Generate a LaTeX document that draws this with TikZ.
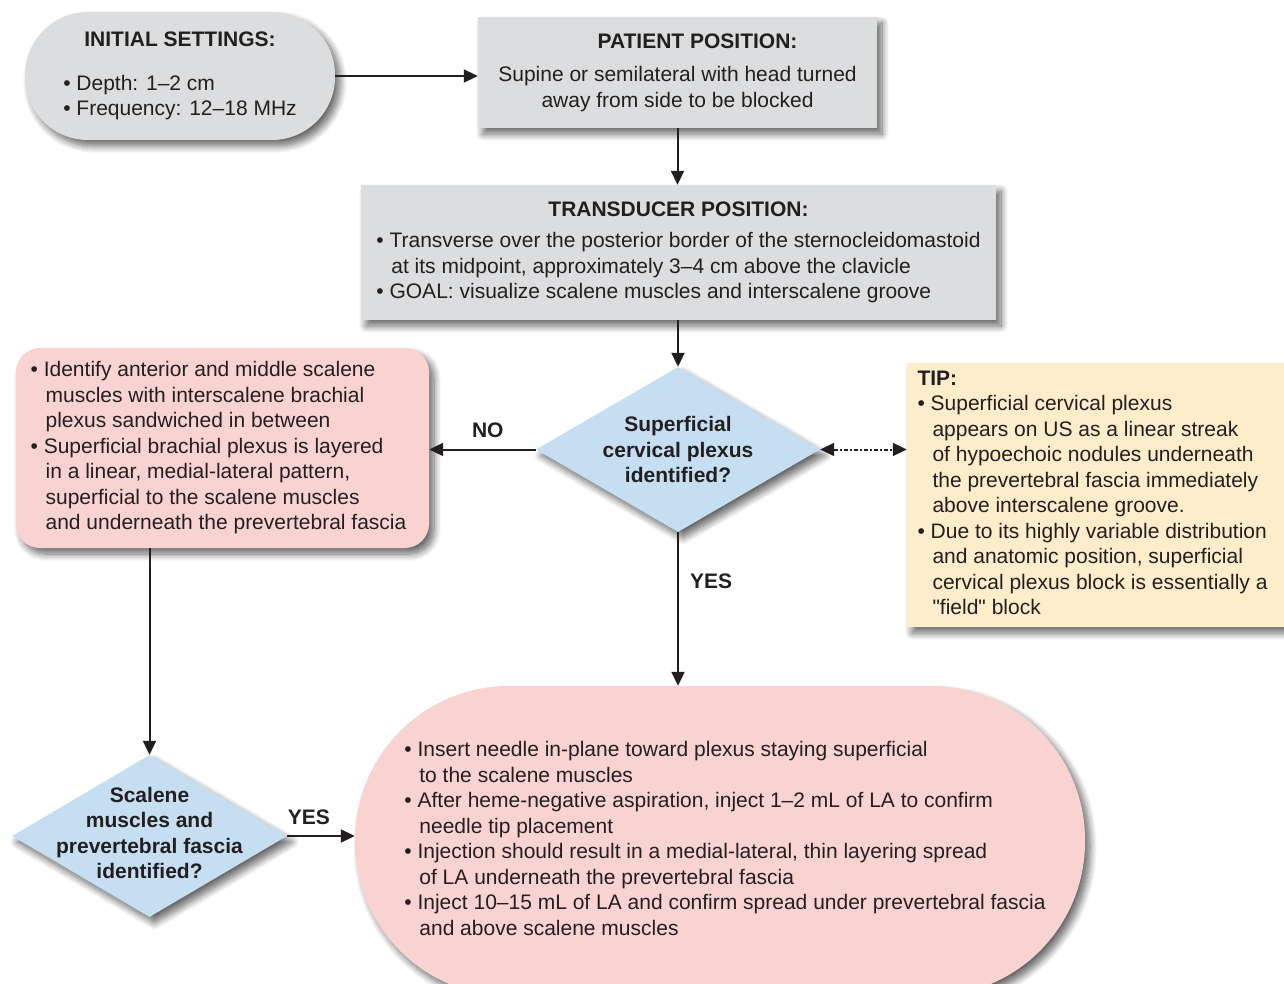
\documentclass[tikz,border=0pt]{standalone}
\usepackage{fontspec}
\setmainfont{Liberation Sans}
\usetikzlibrary{shapes.geometric,arrows.meta,shadows.blur,calc}
\definecolor{txt}{HTML}{231F20}
\definecolor{grayc}{HTML}{DCDDDE}
\definecolor{bluec}{HTML}{C5DEF1}
\definecolor{pinkc}{HTML}{F9D3D2}
\definecolor{tipc}{HTML}{FEEDCB}
\newcommand\myb{\textbullet\ }
\newcommand\myi{\hspace*{15pt}}
\begin{document}
\begin{tikzpicture}[x=1pt,y=-1pt,
  every node/.style={font=\fontsize{21}{25.5}\selectfont, text=txt},
  shad/.style={blur shadow={shadow xshift=5pt, shadow yshift=-6pt, shadow blur radius=7pt, shadow blur steps=10, shadow opacity=60}},
  graybox/.style={rectangle, fill=grayc, shad, inner sep=0pt},
  pinkbox/.style={rectangle, fill=pinkc, shad, inner sep=0pt},
  tipbox/.style={rectangle, fill=tipc, shad, inner sep=0pt},
  decision/.style={diamond, fill=bluec, shad, inner sep=0pt, aspect=1.72},
  qtext/.style={align=center, font=\fontsize{21}{25.5}\selectfont\bfseries},
  lbl/.style={font=\fontsize{21}{25.5}\selectfont\bfseries},
  flow/.style={draw=txt, line width=2pt, -{Triangle[length=14pt,width=13pt]}},
  dotflow/.style={draw=txt, line width=2pt, dash pattern=on 4.5pt off 2pt on 1.5pt off 2pt,
     {Triangle[length=14pt,width=13pt]}-{Triangle[length=14pt,width=13pt]}}
]
\useasboundingbox (0,0) rectangle (1284,984);
\clip (0,0) rectangle (1284,984);

\node[graybox, rounded corners=63pt, minimum width=310pt, minimum height=128pt] (init) at (180,76)
 {\begin{tabular}{@{}l@{}}\multicolumn{1}{@{}c@{}}{\bfseries INITIAL SETTINGS:}\\[18pt]
 \myb Depth: 1–2 cm\\ \myb Frequency: 12–18 MHz\end{tabular}};

\node[graybox, minimum width=399pt, minimum height=111pt] (patient) at (677.5,72.5)
 {\begin{tabular}{@{}c@{}}\hspace*{40pt}\bfseries PATIENT POSITION:\\[8pt]
 Supine or semilateral with head turned\\ away from side to be blocked\end{tabular}};

\node[graybox, minimum width=635pt, minimum height=135pt] (trans) at (678.5,252.5)
 {\begin{tabular}{@{}l@{}}\multicolumn{1}{@{}c@{}}{\bfseries TRANSDUCER POSITION:}\\[6pt]
 \myb Transverse over the posterior border of the sternocleidomastoid\\
 \myi at its midpoint, approximately 3–4 cm above the clavicle\\
 \myb GOAL: visualize scalene muscles and interscalene groove\end{tabular}};

\node[decision, minimum width=284pt, minimum height=165pt] (d1) at (678,449.5) {};
\node[qtext] (d1t) at (678,449.5) {Superficial\\ cervical plexus\\ identified?};

\node[pinkbox, rounded corners=24pt, minimum width=413pt, minimum height=200pt] (lp) at (222.5,448)
 {\begin{tabular}{@{}l@{\hspace{8pt}}}
 \myb Identify anterior and middle scalene\\
 \myi muscles with interscalene brachial\\
 \myi plexus sandwiched in between\\
 \myb Superficial brachial plexus is layered\\
 \myi in a linear, medial-lateral pattern,\\
 \myi superficial to the scalene muscles\\
 \myi and underneath the prevertebral fascia\end{tabular}};

\node[tipbox, minimum width=377pt, minimum height=264pt] (tip) at (1095.5,495)
 {\begin{tabular}{@{}l@{\hspace{6pt}}}
 \textbf{TIP:}\\
 \myb Superficial cervical plexus\\
 \myi appears on US as a linear streak\\
 \myi of hypoechoic nodules underneath\\
 \myi the prevertebral fascia immediately\\
 \myi above interscalene groove.\\
 \myb Due to its highly variable distribution\\
 \myi and anatomic position, superficial\\
 \myi cervical plexus block is essentially a\\
 \myi \textquotedbl field\textquotedbl{} block\end{tabular}};

\node[decision, minimum width=275pt, minimum height=162pt] (d2) at (149.5,836) {};
\node[qtext] (d2t) at (149.5,833) {Scalene\\ muscles and\\ prevertebral fascia\\ identified?};

\node[pinkbox, rounded corners=154pt, minimum width=730pt, minimum height=310pt] (inj) at (720,841)
 {\begin{tabular}{@{\hspace{10pt}}l@{}}
 \myb Insert needle in-plane toward plexus staying superficial\\
 \myi to the scalene muscles\\
 \myb After heme-negative aspiration, inject 1–2 mL of LA to confirm\\
 \myi needle tip placement\\
 \myb Injection should result in a medial-lateral, thin layering spread\\
 \myi of LA underneath the prevertebral fascia\\
 \myb Inject 10–15 mL of LA and confirm spread under prevertebral fascia\\
 \myi and above scalene muscles\end{tabular}};

\draw[flow] (init.east) -- (init.east -| patient.west);
\draw[flow] (patient.south) -- (patient.south |- trans.north);
\draw[flow] (trans.south -| d1.north) -- (d1.north);
\draw[flow] (d1.west) -- node[lbl, pos=0.45, yshift=19pt] {NO} (d1.west -| lp.east);
\draw[dotflow] (d1.east) -- (d1.east -| tip.west);
\draw[flow] (d1.south) -- node[lbl, pos=0.32, xshift=33pt] {YES} (d1.south |- inj.north);
\draw[flow] (d2.north |- lp.south) -- (d2.north);
\draw[flow] (d2.east) -- node[lbl, pos=0.32, yshift=19pt] {YES} (d2.east -| inj.west);
\end{tikzpicture}
\end{document}
